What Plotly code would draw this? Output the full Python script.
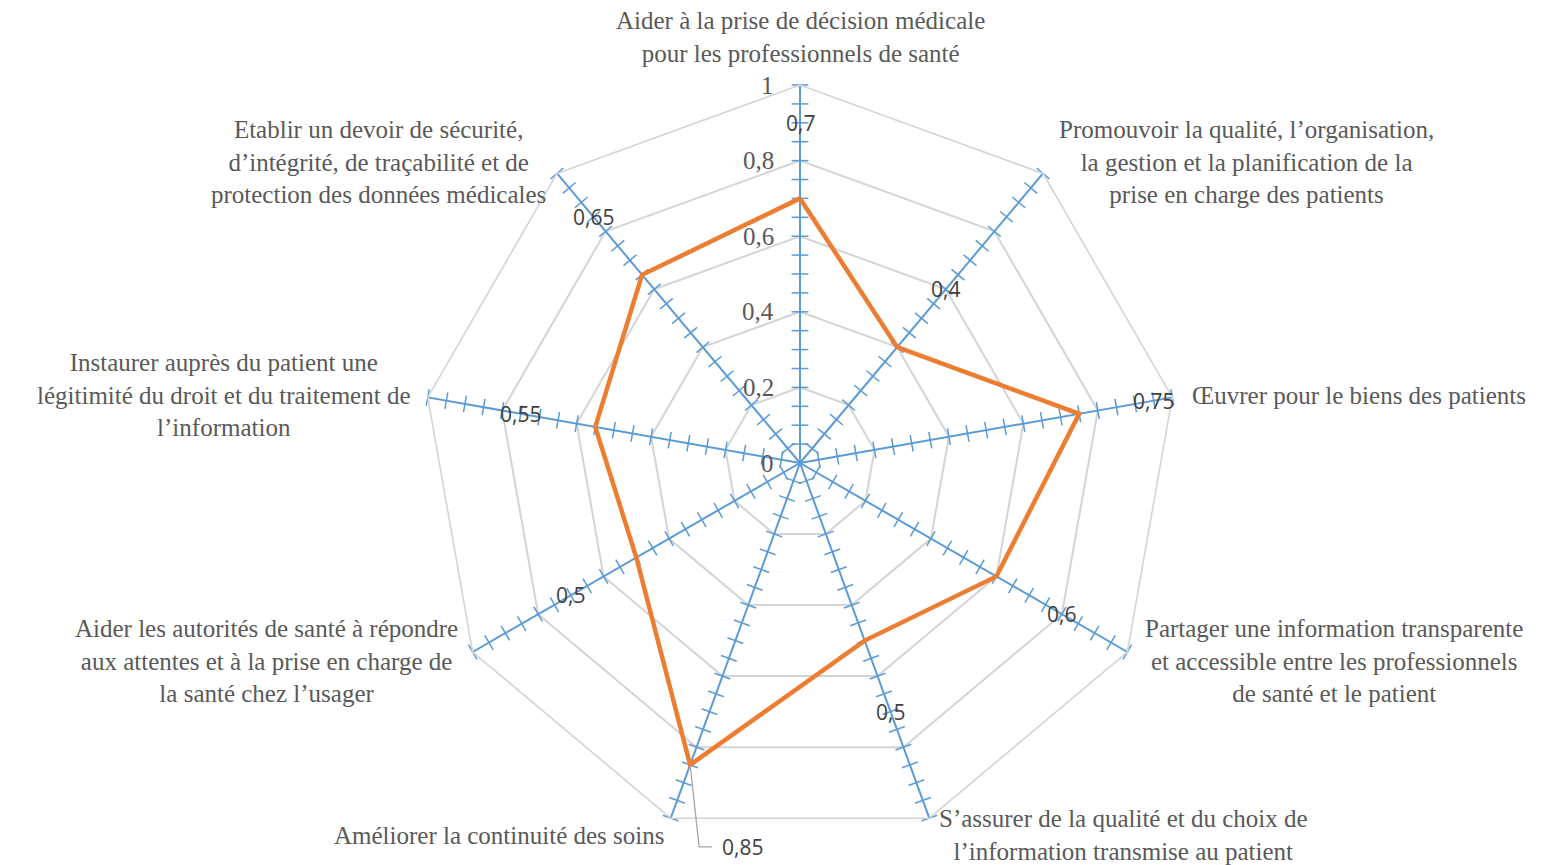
import numpy as np
import plotly.graph_objects as go

# Radar chart data
categories = [
    "Aider à la prise de décision médicale<br>pour les professionnels de santé",
    "Promouvoir la qualité, l’organisation,<br>la gestion et la planification de la<br>prise en charge des patients",
    "Œuvrer pour le biens des patients",
    "Partager une information transparente<br>et accessible entre les professionnels<br>de santé et le patient",
    "S’assurer de la qualité et du choix de<br>l’information transmise au patient",
    "Améliorer la continuité des soins",
    "Aider les autorités de santé à répondre<br>aux attentes et à la prise en charge de<br>la santé chez l’usager",
    "Instaurer auprès du patient une<br>légitimité du droit et du traitement de<br>l’information",
    "Etablir un devoir de sécurité,<br>d’intégrité, de traçabilité et de<br>protection des données médicales",
]
values = [0.7, 0.4, 0.75, 0.6, 0.5, 0.85, 0.5, 0.55, 0.65]
value_labels = ["0,7", "0,4", "0,75", "0,6", "0,5", "0,85", "0,5", "0,55", "0,65"]
radial_ticks = [0, 0.2, 0.4, 0.6, 0.8, 1.0]
radial_ticktext = ["0", "0,2", "0,4", "0,6", "0,8", "1"]
minor_step = 0.05

# Geometry of the page
W, H = 1553, 865
CX, CY, R = 800, 463, 378  # centre and outer radius in pixels

SERIF = "Times New Roman, Liberation Serif, serif"
SANS = "Open Sans, Liberation Sans, sans-serif"
GREY_TXT = "#595959"
BLUE = "#5B9BD5"
ORANGE = "#ED7D31"

n = len(categories)
theta = [i * 360 / n for i in range(n)]  # compass angle of each category


def to_paper(r, phi):
    """polar value (r, compass degrees) -> paper fractions + pixels"""
    a = np.radians(phi)
    x = CX + R * r * np.sin(a)
    y = CY - R * r * np.cos(a)
    return x / W, 1 - y / H, x, y


fig = go.Figure()

# blue spokes
sr, sc = [], []
for c in categories:
    sr += [0, 1, None]
    sc += [c, c, None]
fig.add_trace(go.Scatterpolar(r=sr, theta=sc, mode="lines",
                              line=dict(color=BLUE, width=2),
                              hoverinfo="skip", showlegend=False))

# tick marks on each spoke
tick_r = np.arange(minor_step, 1.0 + 1e-9, minor_step)
for c, t in zip(categories, theta):
    fig.add_trace(go.Scatterpolar(
        r=tick_r, theta=[c] * len(tick_r), mode="markers",
        marker=dict(symbol="line-ew-open", size=12, angle=t, color=BLUE,
                    line=dict(color=BLUE, width=1.5)),
        cliponaxis=False, hoverinfo="skip", showlegend=False))

# data series
fig.add_trace(go.Scatterpolar(r=values + values[:1], theta=categories + categories[:1],
                              mode="lines", line=dict(color=ORANGE, width=4.5),
                              showlegend=False))

annotations = []
shapes = []

# data labels, sitting just outside each point (0,85 gets a leader line)
for i, (v, s, t) in enumerate(zip(values, value_labels, theta)):
    if i == 5:
        continue
    x, y, _, _ = to_paper(v + 0.2, t)
    annotations.append(dict(x=x, y=y, xref="paper", yref="paper", text=s,
                            showarrow=False, xanchor="center", yanchor="middle",
                            font=dict(family=SANS, size=21, color="#404040")))

_, _, px, py = to_paper(values[5], theta[5])
shapes.append(dict(type="path", xref="paper", yref="paper",
                   path=f"M {px/W} {1-py/H} L {(px+9)/W} {1-(py+82)/H} L {(px+22)/W} {1-(py+82)/H}",
                   line=dict(color="#A6A6A6", width=1.3)))
annotations.append(dict(x=(px + 30) / W, y=1 - (py + 82) / H, xref="paper", yref="paper",
                        text=value_labels[5], showarrow=False, xanchor="left", yanchor="middle",
                        font=dict(family=SANS, size=21, color="#404040")))

# category labels around the outside
anchors = [("center", "bottom", 0, 16), ("left", "middle", 14, 11), ("left", "middle", 18, 2),
           ("left", "middle", 16, -9), ("left", "middle", 8, -17), ("right", "middle", -5, -17),
           ("right", "middle", -13, -9), ("right", "middle", -15, 2), ("right", "middle", -9, 11)]
for cat, t, (xa, ya, dx, dy) in zip(categories, theta, anchors):
    x, y, _, _ = to_paper(1.0, t)
    annotations.append(dict(x=x, y=y, xref="paper", yref="paper", text=cat,
                            showarrow=False, xanchor=xa, yanchor=ya, align="center",
                            xshift=dx, yshift=dy,
                            font=dict(family=SERIF, size=25, color=GREY_TXT)))

# radial value labels to the left of the vertical spoke
for v, s in zip(radial_ticks, radial_ticktext):
    x, y, _, _ = to_paper(v, 0)
    annotations.append(dict(x=x, y=y, xref="paper", yref="paper", text=s,
                            showarrow=False, xanchor="right", yanchor="middle",
                            xshift=-24, font=dict(family=SERIF, size=25, color=GREY_TXT)))

fig.update_layout(
    width=W, height=H,
    margin=dict(l=0, r=0, t=0, b=0),
    paper_bgcolor="white",
    polar=dict(
        domain=dict(x=[(CX - R) / W, (CX + R) / W], y=[1 - (CY + R) / H, 1 - (CY - R) / H]),
        bgcolor="white",
        radialaxis=dict(range=[0, 1], tickvals=radial_ticks, showticklabels=False,
                        ticks="", showline=False, gridcolor="#D4D4D4", gridwidth=1.6),
        angularaxis=dict(rotation=90, direction="clockwise", type="category",
                         categoryarray=categories,
                         showticklabels=False, ticks="", showgrid=False,
                         showline=True, linecolor="#D4D4D4", linewidth=1.6),
        gridshape="linear",
    ),
    annotations=annotations,
    shapes=shapes,
)

fig.write_html("out.html", config={"displayModeBar": False},
               post_script="document.body.style.margin='0';")
